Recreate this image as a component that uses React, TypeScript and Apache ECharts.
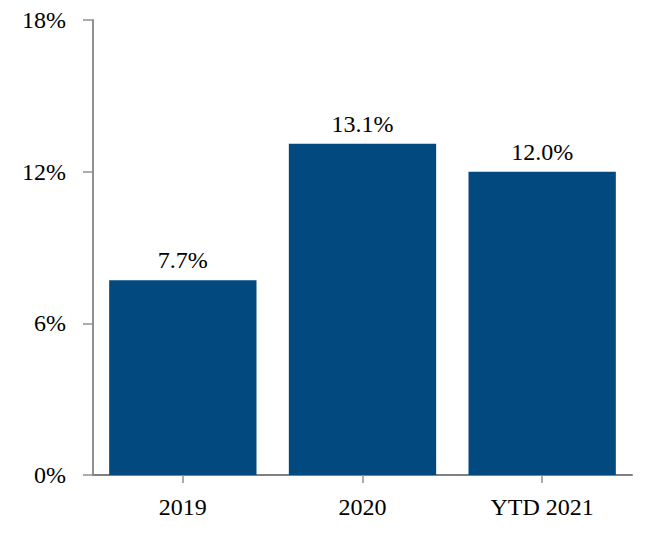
import React, { useEffect, useRef } from "react";
import * as echarts from "echarts";

const categories = ["2019", "2020", "YTD 2021"];
const values = [7.7, 13.1, 12.0];
const yTicks = [0, 6, 12, 18];

export default function App() {
  const ref = useRef<HTMLDivElement>(null);
  useEffect(() => {
    const chart = echarts.init(ref.current!, null, { renderer: "svg" });
    const font = "'Liberation Serif', 'Times New Roman', serif";
    chart.setOption({
      animation: false,
      grid: { left: 85, right: 12, top: 12, bottom: 55, containLabel: false },
      xAxis: {
        type: "category",
        data: categories,
        axisLine: { lineStyle: { color: "#808080", width: 2 } },
        axisTick: { show: true, alignWithLabel: true, length: 8, lineStyle: { color: "#909090", width: 1.5 } },
        axisLabel: { fontFamily: font, fontSize: 24, color: "#000", margin: 20 },
      },
      yAxis: {
        type: "value",
        min: yTicks[0],
        max: yTicks[yTicks.length - 1],
        interval: 6,
        splitLine: { show: false },
        axisLine: { show: true, lineStyle: { color: "#909090", width: 2 } },
        axisTick: { show: true, length: 10, lineStyle: { color: "#909090", width: 1.5 } },
        axisLabel: {
          fontFamily: font,
          fontSize: 24,
          color: "#000",
          margin: 27,
          formatter: (v: number) => `${v}%`,
        },
      },
      series: [
        {
          type: "bar",
          data: values,
          barWidth: "82%",
          itemStyle: { color: "#01497E" },
          label: {
            show: true,
            position: "top",
            distance: 8,
            fontFamily: font,
            fontSize: 24,
            color: "#000",
            formatter: (p: any) => `${p.value.toFixed(1)}%`,
          },
        },
      ],
    });
    return () => chart.dispose();
  }, []);
  return <div ref={ref} style={{ width: 636, height: 522 }} />;
}
